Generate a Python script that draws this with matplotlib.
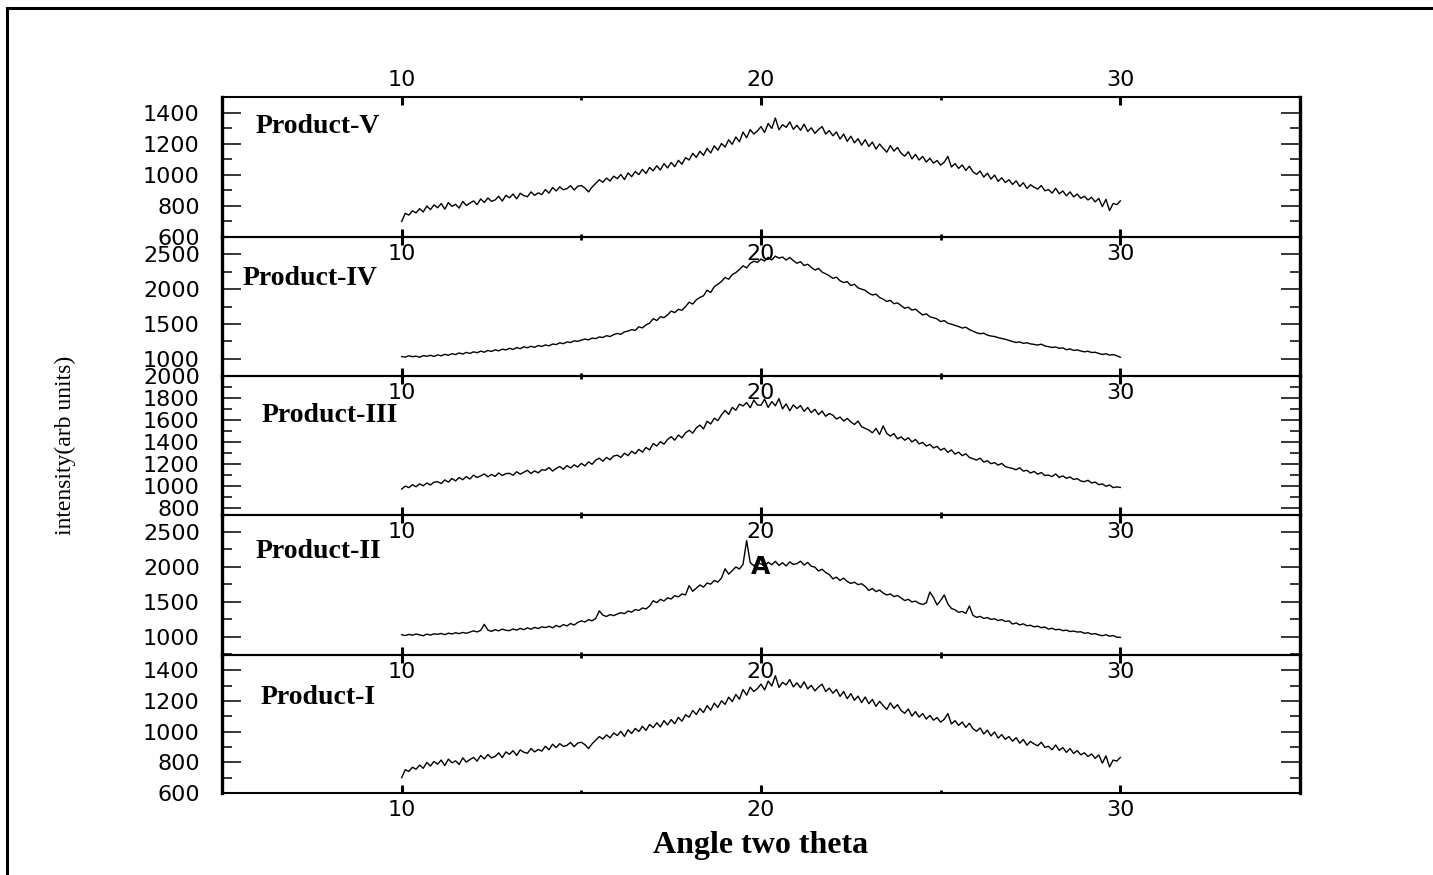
import matplotlib
matplotlib.use("Agg")
import matplotlib.pyplot as plt
from matplotlib.lines import Line2D
from matplotlib.ticker import MultipleLocator, FixedLocator
import numpy as np

# two-theta grid of the scan (10 to 30 deg, 0.1 deg step)
two_theta = np.linspace(10, 30, 201)

# Product-I and Product-V show the same pattern
prod_1 = [
    700, 752, 741, 768, 755, 782, 761, 799, 776, 806,
    788, 815, 779, 821, 797, 810, 786, 829, 802, 818,
    832, 808, 845, 822, 851, 829, 838, 862, 831, 868,
    852, 876, 845, 881, 866, 859, 890, 868, 884, 873,
    905, 882, 918, 896, 922, 904, 911, 930, 902, 926,
    931, 915, 890, 921, 944, 968, 952, 979, 960, 991,
    975, 1002, 969, 1012, 988, 1021, 1001, 1035, 1008, 1047,
    1026, 1058, 1031, 1072, 1044, 1079, 1052, 1093, 1068, 1110,
    1095, 1138, 1112, 1151, 1125, 1170, 1140, 1186, 1158, 1201,
    1178, 1225, 1196, 1243, 1212, 1275, 1238, 1290, 1262, 1281,
    1310, 1272, 1330, 1298, 1365, 1289, 1322, 1305, 1340, 1292,
    1318, 1286, 1325, 1279, 1302, 1266, 1291, 1310, 1262, 1284,
    1251, 1275, 1230, 1262, 1215, 1248, 1205, 1232, 1190, 1226,
    1182, 1210, 1165, 1198, 1170, 1145, 1188, 1152, 1176, 1138,
    1120, 1148, 1102, 1131, 1095, 1118, 1082, 1106, 1075, 1092,
    1062, 1081, 1118, 1050, 1072, 1041, 1063, 1028, 1055, 1019,
    1003, 1024, 985, 1010, 972, 998, 958, 981, 950, 968,
    938, 961, 925, 949, 912, 936, 920, 908, 931, 897,
    905, 882, 913, 878, 896, 865, 890, 858, 876, 849,
    862, 838, 855, 826, 848, 795, 842, 770, 815, 808,
    832,
]
prod_5 = list(prod_1)

prod_4 = [
    1030, 1022, 1041, 1028, 1036, 1019, 1044, 1033, 1048, 1031,
    1054, 1040, 1062, 1049, 1071, 1058, 1082, 1066, 1090, 1074,
    1098, 1085, 1108, 1092, 1118, 1103, 1127, 1112, 1136, 1125,
    1148, 1132, 1159, 1143, 1170, 1156, 1178, 1162, 1189, 1175,
    1197, 1184, 1210, 1202, 1228, 1215, 1240, 1232, 1256, 1248,
    1266, 1282, 1270, 1295, 1288, 1312, 1304, 1330, 1318, 1345,
    1362, 1350, 1385, 1396, 1418, 1405, 1458, 1442, 1486, 1510,
    1575, 1548, 1602, 1590, 1628, 1685, 1662, 1710, 1695, 1748,
    1812, 1785, 1846, 1880, 1905, 1985, 1952, 2035, 2070, 2110,
    2168, 2142, 2210, 2238, 2282, 2335, 2305, 2370, 2402, 2385,
    2432, 2405, 2458, 2420, 2475, 2445, 2462, 2418, 2455, 2410,
    2372, 2395, 2340, 2358, 2312, 2275, 2298, 2245, 2220, 2192,
    2155, 2172, 2120, 2095, 2108, 2052, 2070, 2018, 2000, 1982,
    1942, 1915, 1928, 1880, 1855, 1822, 1838, 1790, 1802, 1762,
    1725, 1740, 1698, 1712, 1668, 1628, 1645, 1602, 1588, 1571,
    1532, 1548, 1510, 1495, 1478, 1462, 1440, 1452, 1418, 1395,
    1372, 1358, 1366, 1338, 1325, 1318, 1302, 1290, 1278, 1262,
    1246, 1232, 1241, 1220, 1228, 1212, 1205, 1195, 1208, 1182,
    1172, 1160, 1168, 1148, 1155, 1128, 1140, 1118, 1125, 1110,
    1098, 1106, 1088, 1092, 1075, 1060, 1071, 1050, 1058, 1041,
    1020,
]

prod_3 = [
    975, 1002, 988, 1015, 996, 1022, 1005, 1030, 1012, 1038,
    1042, 1025, 1058, 1038, 1071, 1049, 1080, 1060, 1088, 1066,
    1102, 1080, 1095, 1112, 1086, 1108, 1090, 1121, 1098, 1115,
    1118, 1100, 1132, 1110, 1128, 1145, 1116, 1140, 1122, 1150,
    1146, 1170, 1138, 1162, 1180, 1155, 1188, 1166, 1195, 1175,
    1208, 1185, 1222, 1200, 1238, 1255, 1228, 1262, 1241, 1275,
    1282, 1262, 1300, 1278, 1318, 1296, 1335, 1310, 1352, 1330,
    1388, 1365, 1405, 1382, 1425, 1450, 1418, 1465, 1440, 1485,
    1508, 1482, 1530, 1555, 1520, 1590, 1565, 1618, 1595, 1648,
    1688, 1652, 1715, 1690, 1745, 1728, 1760, 1712, 1782, 1738,
    1735, 1790, 1715, 1768, 1730, 1795, 1702, 1748, 1685, 1738,
    1705, 1732, 1680, 1715, 1668, 1698, 1650, 1682, 1635, 1660,
    1645, 1610, 1628, 1592, 1615, 1585, 1560, 1592, 1540, 1525,
    1510, 1485, 1525, 1470, 1548, 1480, 1455, 1478, 1430, 1448,
    1418, 1440, 1402, 1425, 1385, 1398, 1365, 1380, 1348, 1362,
    1328, 1345, 1308, 1330, 1292, 1310, 1278, 1295, 1262, 1250,
    1238, 1255, 1220, 1232, 1205, 1215, 1192, 1208, 1178, 1170,
    1162, 1150, 1168, 1138, 1145, 1120, 1135, 1110, 1125, 1098,
    1102, 1088, 1112, 1080, 1095, 1072, 1085, 1062, 1070, 1048,
    1042, 1055, 1030, 1038, 1015, 1022, 1000, 1012, 988, 995,
    990,
]

prod_2 = [
    1030, 1018, 1035, 1022, 1040, 1028, 1015, 1038, 1025, 1042,
    1036, 1048, 1030, 1052, 1040, 1058, 1045, 1062, 1050, 1068,
    1085, 1070, 1092, 1178, 1095, 1078, 1102, 1085, 1110, 1092,
    1088, 1112, 1095, 1120, 1102, 1128, 1108, 1135, 1118, 1142,
    1132, 1150, 1128, 1162, 1140, 1175, 1155, 1190, 1168, 1205,
    1228, 1210, 1245, 1228, 1262, 1370, 1310, 1290, 1318, 1302,
    1325, 1345, 1330, 1368, 1352, 1390, 1375, 1412, 1398, 1440,
    1515, 1488, 1535, 1512, 1558, 1540, 1588, 1570, 1612, 1598,
    1732, 1650, 1695, 1740, 1710, 1768, 1752, 1805, 1782, 1840,
    1972, 1895, 1945, 1998, 1968, 2035, 2375, 2060, 2015, 2052,
    2042, 2008, 2065, 2030, 2078, 2020, 2058, 2012, 2070, 2035,
    2045, 2080, 2025, 2062, 2008, 1995, 1940, 1965, 1918, 1890,
    1828, 1852, 1805, 1838, 1790, 1762, 1780, 1745, 1758, 1720,
    1662, 1690, 1645, 1668, 1625, 1598, 1612, 1575, 1590, 1555,
    1518, 1535, 1498, 1510, 1478, 1462, 1485, 1640, 1560, 1455,
    1520, 1598, 1470, 1405, 1385, 1350, 1362, 1335, 1440, 1305,
    1278, 1292, 1262, 1275, 1248, 1258, 1232, 1245, 1218, 1228,
    1182, 1198, 1170, 1185, 1158, 1165, 1142, 1152, 1130, 1140,
    1110, 1122, 1100, 1108, 1088, 1095, 1075, 1082, 1068, 1072,
    1050, 1058, 1038, 1045, 1028, 1015, 1030, 1008, 1018, 995,
    992,
]

# panels from top to bottom
names = ["Product-V", "Product-IV", "Product-III", "Product-II", "Product-I"]
series = [prod_5, prod_4, prod_3, prod_2, prod_1]
y_limits = [(600, 1500), (750, 2750), (740, 2000), (740, 2740), (600, 1500)]
y_ticks = [
    [600, 800, 1000, 1200, 1400],
    [1000, 1500, 2000, 2500],
    [800, 1000, 1200, 1400, 1600, 1800, 2000],
    [1000, 1500, 2000, 2500],
    [600, 800, 1000, 1200, 1400],
]
y_minor = [100, 250, 100, 250, 100]
x_ticks = [10, 20, 30]

label_pos = [(0.031, 0.79), (0.019, 0.70), (0.037, 0.715), (0.031, 0.74), (0.036, 0.69)]

W, H = 1433, 875
fig = plt.figure(figsize=(W / 100, H / 100), dpi=100)

# panel edges in pixels (from top of image)
edges = [97, 237, 376, 515, 655, 793]
left, right = 222, 1300

sans = ["DejaVu Sans"]
serif = ["Liberation Serif", "DejaVu Serif"]

axes = []
for i in range(5):
    top_px, bot_px = edges[i], edges[i + 1]
    ax = fig.add_axes([left / W, 1 - bot_px / H, (right - left) / W, (bot_px - top_px) / H])
    ax.patch.set_visible(False)
    ax.plot(two_theta, series[i], color="black", lw=1.0)
    ax.set_xlim(5, 35)
    ax.set_ylim(*y_limits[i])

    ax.xaxis.set_major_locator(FixedLocator(x_ticks))
    ax.xaxis.set_minor_locator(FixedLocator([15, 25]))
    ax.yaxis.set_major_locator(FixedLocator(y_ticks[i]))
    ax.yaxis.set_minor_locator(MultipleLocator(y_minor[i]))

    ax.tick_params(axis="x", which="major", direction="in", length=6, width=2.2,
                   top=True, bottom=True, labelbottom=True, labeltop=(i == 0),
                   pad=5, labelsize=16)
    ax.tick_params(axis="x", which="minor", direction="in", length=2.5, width=2,
                   top=True, bottom=True)
    ax.tick_params(axis="y", which="major", direction="in", length=14, width=1.1,
                   left=True, right=True, pad=16, labelsize=16)
    ax.tick_params(axis="y", which="minor", direction="in", length=7, width=1.1,
                   left=True, right=True)
    for lab in ax.get_xticklabels() + ax.get_yticklabels():
        lab.set_family(sans)

    ax.spines["left"].set_linewidth(2.4)
    ax.spines["right"].set_linewidth(2.4)
    ax.spines["top"].set_linewidth(1.5)
    ax.spines["bottom"].set_linewidth(1.5)

    lx, ly = label_pos[i]
    ax.text(lx, ly, names[i], transform=ax.transAxes, ha="left", va="center",
            family=serif, fontsize=20, fontweight="bold")
    axes.append(ax)

# marker letter on Product-II near the main peak
axes[3].text(20.0, 2000, "A", ha="center", va="center", family=sans,
             fontsize=18, fontweight="bold")

fig.text(65 / W, 1 - 445 / H, "intensity(arb units)", rotation=90, ha="center",
         va="center", family=serif, fontsize=17)
fig.text(761 / W, 1 - 845 / H, "Angle two theta", ha="center", va="center",
         family=serif, fontsize=23, fontweight="bold")

# outer frame (left and top edges show in the picture)
fig.add_artist(Line2D([7 / W, 7 / W], [0, 1 - 8 / H], transform=fig.transFigure,
                      color="black", lw=2.2))
fig.add_artist(Line2D([7 / W, 1], [1 - 8 / H, 1 - 8 / H], transform=fig.transFigure,
                      color="black", lw=2.2))

fig.savefig("out.png", dpi=100, facecolor="white")
